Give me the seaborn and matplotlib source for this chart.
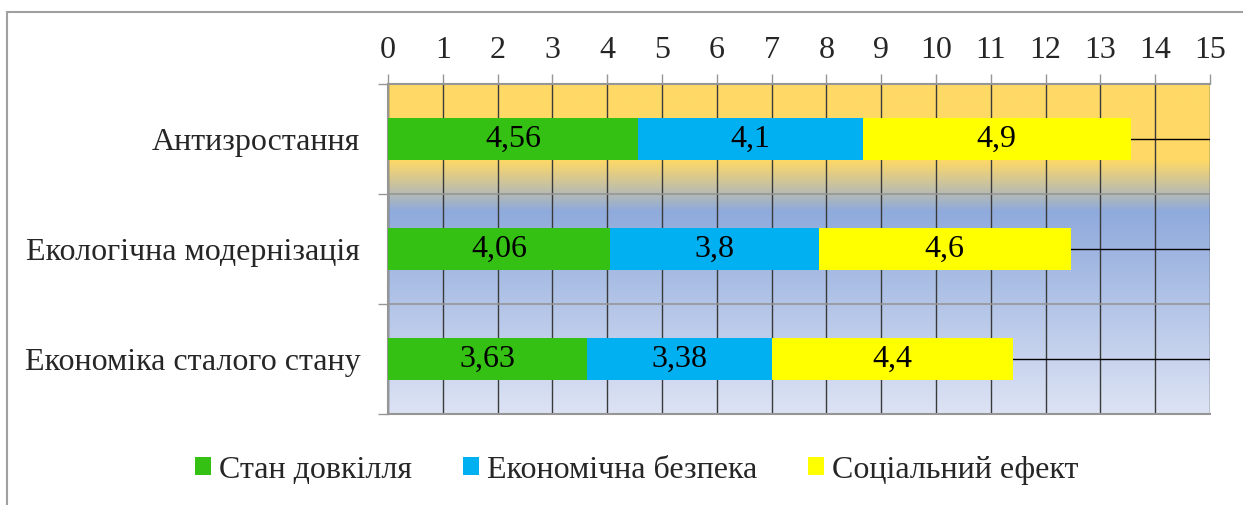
import matplotlib
matplotlib.use("Agg")
from matplotlib import pyplot as plt
from matplotlib.patches import Patch, Rectangle
import numpy as np
import pandas as pd
import seaborn as sns

# data
categories = ["Антизростання", "Екологічна модернізація", "Економіка сталого стану"]
series_names = ["Стан довкілля", "Економічна безпека", "Соціальний ефект"]
env_values = [4.56, 4.06, 3.63]
econ_values = [4.1, 3.8, 3.38]
social_values = [4.9, 4.6, 4.4]
x_ticks = list(range(0, 16))

colors = ["#35C014", "#00B0F0", "#FFFF00"]


def fmt_value(v: float) -> str:
    return f"{v:g}".replace(".", ",")


def plot_chart(fig_location: str = "out.png"):
    sns.set_style("white")
    plt.rcParams["font.family"] = ["Liberation Serif", "DejaVu Serif"]
    fs = 23

    df = pd.DataFrame({
        "category": categories,
        "env": env_values,
        "econ": econ_values,
        "social": social_values,
    })
    df["cum_econ"] = df["env"] + df["econ"]
    df["cum_social"] = df["cum_econ"] + df["social"]

    fig = plt.figure(figsize=(12.43, 5.05), dpi=100)
    ax = fig.add_axes([388 / 1243, 1 - 414 / 505, (1210 - 388) / 1243, (414 - 84) / 505])

    # stacked bars: draw cumulative totals, longest first
    for col, color in [("cum_social", colors[2]), ("cum_econ", colors[1]), ("env", colors[0])]:
        sns.barplot(data=df, x=col, y="category", color=color, width=0.39, saturation=1,
                    orient="h", ax=ax, linewidth=0, zorder=3)

    # value labels in the middle of each segment
    for i, row in df.iterrows():
        starts = [0, row["env"], row["cum_econ"]]
        vals = [row["env"], row["econ"], row["social"]]
        for s, v in zip(starts, vals):
            ax.text(s + v / 2, i, fmt_value(v), ha="center", va="center", fontsize=fs,
                    color="black", zorder=4)

    # background gradient (orange band on top, blue fading down)
    stops = [0.0, 0.23, 0.385, 1.0]
    cols = np.array([[255, 217, 102], [255, 217, 102], [143, 170, 220], [221, 227, 244]]) / 255
    t = np.linspace(0, 1, 400)
    grad = np.stack([np.interp(t, stops, cols[:, k]) for k in range(3)], axis=-1)[:, None, :]
    ax.imshow(grad, extent=[0, 1, 0, 1], transform=ax.transAxes, aspect="auto",
              origin="upper", zorder=0, interpolation="bilinear")

    ax.set_xlim(0, 15)
    ax.set_ylim(len(categories) - 0.5, -0.5)
    ax.set_xlabel(None)
    ax.set_ylabel(None)

    ax.xaxis.tick_top()
    ax.set_xticks(x_ticks)
    ax.set_xticklabels([str(v) for v in x_ticks])
    ax.tick_params(axis="x", top=True, length=7.2, width=1, color="#969696",
                   labelsize=fs, pad=6.5)
    ax.set_yticks(range(len(categories)))
    ax.set_yticklabels(categories)
    ax.set_yticks([-0.5, 0.5, 1.5, 2.5], minor=True)
    ax.tick_params(axis="y", which="major", left=False, length=0, labelsize=fs, pad=20)
    ax.tick_params(axis="y", which="minor", left=True, length=7.2, width=1, color="#969696")

    ax.set_axisbelow(True)
    ax.xaxis.grid(True, color="#3A3A3A", lw=1)
    ax.yaxis.grid(True, which="major", color="black", lw=1)
    ax.yaxis.grid(True, which="minor", color="#969696", lw=1.2)

    for side in ["top", "bottom", "left"]:
        ax.spines[side].set_color("#969696")
        ax.spines[side].set_linewidth(1.5)
    ax.spines["right"].set_visible(False)

    handles = [Patch(facecolor=c, edgecolor="none") for c in colors]
    fig.legend(handles, series_names, loc="center", bbox_to_anchor=(0.512, 0.069), ncol=3,
               frameon=False, fontsize=fs, handlelength=0.5, handleheight=0.5,
               handletextpad=0.25, columnspacing=1.6)

    # outer chart border
    fig.add_artist(Rectangle((7 / 1243, -0.1), 1.2, (505 - 12) / 505 + 0.1,
                             transform=fig.transFigure, fill=False,
                             edgecolor="#A0A0A0", lw=1.5))

    fig.savefig(fig_location, dpi=100)


if __name__ == "__main__":
    plot_chart("out.png")
